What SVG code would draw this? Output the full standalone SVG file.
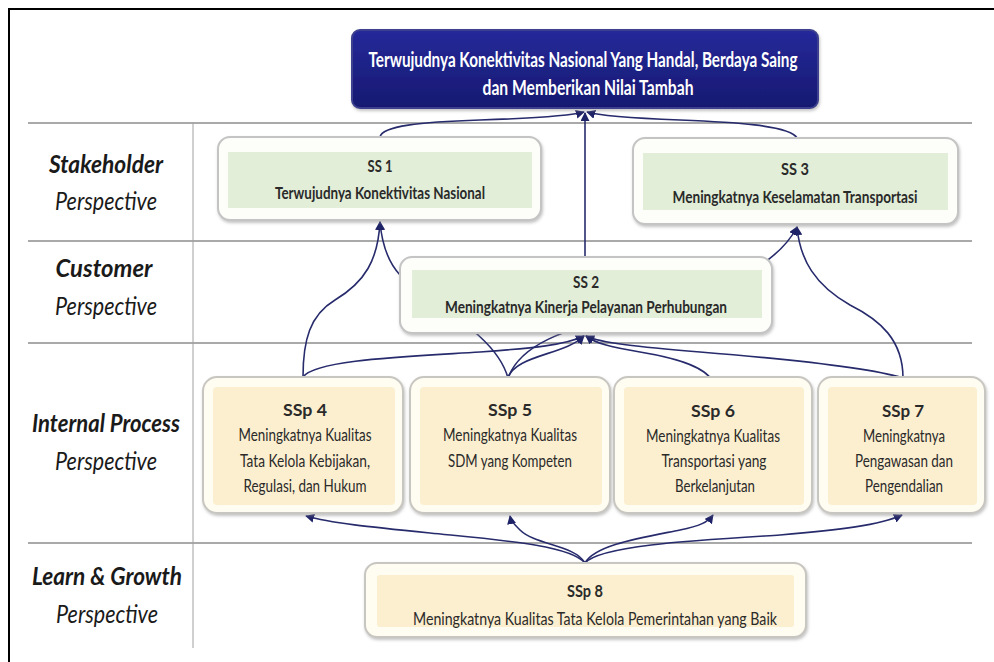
<svg xmlns="http://www.w3.org/2000/svg" width="994" height="662" viewBox="0 0 994 662">
<style>
  .lbl { font-family: Lato, "Liberation Sans", sans-serif; font-style: italic; fill: #1a1a1a; font-size: 25px; text-anchor: middle; }
  .lblb { font-weight: bold; }
  .div { stroke: #a9a9a9; stroke-width: 2; fill: none; }
  .outer { fill: #fdfdfa; stroke: #c4c4c4; stroke-width: 2; filter: url(#sh); }
  .outerY { fill: #fffcf2; stroke: #c8c6c0; stroke-width: 2; filter: url(#sh); }
  .inG { fill: #e2eed8; }
  .inY { fill: #fcefcf; }
  .t { font-family: Lato, "Liberation Sans", sans-serif; font-size: 17px; fill: #2a2a2a; text-anchor: middle; }
  .tb { font-weight: bold; }
  .top { font-family: Lato, "Liberation Sans", sans-serif; font-size: 21px; font-weight: bold; fill: #ffffff; text-anchor: middle; }
  .c { fill: none; stroke: #272b6c; stroke-width: 1.6; }
  .ca { marker-end: url(#arr); }
</style>
<defs>
  <filter id="sh" x="-5%" y="-10%" width="112%" height="125%">
    <feDropShadow dx="1" dy="2" stdDeviation="1.5" flood-color="#888" flood-opacity="0.5"/>
  </filter>
  <linearGradient id="navy" x1="0" y1="0" x2="0" y2="1">
    <stop offset="0" stop-color="#25299a"/>
    <stop offset="1" stop-color="#161970"/>
  </linearGradient>
  <marker id="arr" viewBox="0 0 10 10" refX="9" refY="5" markerWidth="9" markerHeight="9" markerUnits="userSpaceOnUse" orient="auto">
    <path d="M0,0 L10,5 L0,10 z" fill="#1e2266"/>
  </marker>
</defs>
<rect width="994" height="662" fill="#ffffff"/>
<!-- frame -->
<line x1="8" y1="9" x2="994" y2="9" stroke="#000" stroke-width="2"/>
<line x1="9" y1="8" x2="9" y2="662" stroke="#000" stroke-width="2"/>
<!-- dividers -->
<g id="grid">
  <line class="div" x1="28" y1="123" x2="972" y2="123"/>
  <line class="div" x1="28" y1="241" x2="972" y2="241"/>
  <line class="div" x1="28" y1="343" x2="972" y2="343"/>
  <line class="div" x1="28" y1="543" x2="972" y2="543"/>
  <line x1="193" y1="123" x2="193" y2="648" stroke="#a0a0a0" stroke-width="1"/>
</g>
<!-- perspective labels -->
<g id="labels">
  <text class="lbl lblb" x="106" y="173" textLength="114" lengthAdjust="spacingAndGlyphs">Stakeholder</text>
  <text class="lbl" x="106" y="210" textLength="102" lengthAdjust="spacingAndGlyphs">Perspective</text>
  <text class="lbl lblb" x="104" y="277" textLength="97" lengthAdjust="spacingAndGlyphs">Customer</text>
  <text class="lbl" x="106" y="315" textLength="102" lengthAdjust="spacingAndGlyphs">Perspective</text>
  <text class="lbl lblb" x="106" y="432" textLength="148" lengthAdjust="spacingAndGlyphs">Internal Process</text>
  <text class="lbl" x="106" y="470" textLength="102" lengthAdjust="spacingAndGlyphs">Perspective</text>
  <text class="lbl lblb" x="107" y="585" textLength="150" lengthAdjust="spacingAndGlyphs">Learn &amp; Growth</text>
  <text class="lbl" x="107" y="623" textLength="102" lengthAdjust="spacingAndGlyphs">Perspective</text>
</g>
<!-- connectors -->
<g id="connectors">
  <path class="c ca" d="M380,137 C382,126 420,122 480,120 C540,118 570,116 584,112"/>
  <path class="c ca" d="M797,138 C790,125 730,122 680,120 C630,118 600,116 587,112"/>
  <path class="c ca" d="M585,257 L585,113"/>
  <path class="c ca" d="M303,377 C303,340 310,315 335,300 C365,282 378,260 380,222"/>
  <path class="c ca" d="M508,378 C495,330 420,300 400,275 C388,262 382,245 380,222"/>
  <path class="c ca" d="M508,378 C520,345 560,330 640,310 C740,285 780,260 797,227"/>
  <path class="c ca" d="M903,378 C903,340 880,320 850,305 C815,285 800,260 797,227"/>
  <path class="c ca" d="M303,377 C315,360 400,357 480,352 C535,348 565,345 584,336"/>
  <path class="c ca" d="M508,378 C515,355 565,355 584,336"/>
  <path class="c ca" d="M713,382 C705,365 670,357 640,352 C610,347 595,343 586,336"/>
  <path class="c ca" d="M903,378 C870,368 800,360 700,352 C640,347 600,343 586,336"/>
  <path class="c ca" d="M585,563 C570,545 500,540 430,533 C370,527 330,523 306,516"/>
  <path class="c ca" d="M585,563 C575,545 535,545 520,530 C514,524 511,521 510,516"/>
  <path class="c ca" d="M585,563 C595,545 640,538 680,530 C700,526 708,522 713,515"/>
  <path class="c ca" d="M585,563 C600,545 700,540 780,535 C840,530 880,525 902,515"/>
</g>
<!-- nodes -->
<g id="top">
  <rect x="352" y="30" width="466" height="78" rx="8" fill="url(#navy)" stroke="#3c418f" stroke-width="2" filter="url(#sh)"/>
  <text class="top" x="583" y="67" textLength="429" lengthAdjust="spacingAndGlyphs">Terwujudnya Konektivitas Nasional Yang Handal, Berdaya Saing</text>
  <text class="top" x="588" y="95" textLength="211" lengthAdjust="spacingAndGlyphs">dan Memberikan Nilai Tambah</text>
</g>
<g id="ss1">
  <rect class="outer" x="218" y="137" width="323" height="83" rx="12"/>
  <rect class="inG" x="228" y="152" width="304" height="56"/>
  <text class="t tb" x="380" y="172" textLength="25" lengthAdjust="spacingAndGlyphs">SS 1</text>
  <text class="t tb" x="380" y="199" textLength="210" lengthAdjust="spacingAndGlyphs">Terwujudnya Konektivitas Nasional</text>
</g>
<g id="ss3">
  <rect class="outer" x="633" y="138" width="325" height="86" rx="12"/>
  <rect class="inG" x="643" y="153" width="305" height="57"/>
  <text class="t tb" x="795" y="175" textLength="28" lengthAdjust="spacingAndGlyphs">SS 3</text>
  <text class="t tb" x="795" y="203" textLength="245" lengthAdjust="spacingAndGlyphs">Meningkatnya Keselamatan Transportasi</text>
</g>
<g id="ss2">
  <rect class="outer" x="400" y="257" width="372" height="76" rx="12"/>
  <rect class="inG" x="412" y="270" width="350" height="48"/>
  <text class="t tb" x="586" y="288" textLength="26" lengthAdjust="spacingAndGlyphs">SS 2</text>
  <text class="t tb" x="586" y="313" textLength="282" lengthAdjust="spacingAndGlyphs">Meningkatnya Kinerja Pelayanan Perhubungan</text>
</g>
<g id="ssp4">
  <rect class="outerY" x="203" y="377" width="200" height="136" rx="14"/>
  <rect class="inY" x="213" y="387" width="182" height="118" rx="4"/>
  <text class="t tb" x="305" y="416" textLength="44" lengthAdjust="spacingAndGlyphs">SSp 4</text>
  <text class="t" x="305" y="441" textLength="133" lengthAdjust="spacingAndGlyphs">Meningkatnya Kualitas</text>
  <text class="t" x="305" y="467" textLength="130" lengthAdjust="spacingAndGlyphs">Tata Kelola Kebijakan,</text>
  <text class="t" x="305" y="492" textLength="123" lengthAdjust="spacingAndGlyphs">Regulasi, dan Hukum</text>
</g>
<g id="ssp5">
  <rect class="outerY" x="410" y="377" width="200" height="136" rx="14"/>
  <rect class="inY" x="420" y="387" width="182" height="118" rx="4"/>
  <text class="t tb" x="510" y="416" textLength="44" lengthAdjust="spacingAndGlyphs">SSp 5</text>
  <text class="t" x="510" y="441" textLength="134" lengthAdjust="spacingAndGlyphs">Meningkatnya Kualitas</text>
  <text class="t" x="510" y="467" textLength="124" lengthAdjust="spacingAndGlyphs">SDM yang Kompeten</text>
</g>
<g id="ssp6">
  <rect class="outerY" x="614" y="377" width="198" height="136" rx="14"/>
  <rect class="inY" x="624" y="387" width="180" height="118" rx="4"/>
  <text class="t tb" x="713" y="417" textLength="44" lengthAdjust="spacingAndGlyphs">SSp 6</text>
  <text class="t" x="713" y="442" textLength="134" lengthAdjust="spacingAndGlyphs">Meningkatnya Kualitas</text>
  <text class="t" x="714" y="467" textLength="105" lengthAdjust="spacingAndGlyphs">Transportasi yang</text>
  <text class="t" x="715" y="492" textLength="80" lengthAdjust="spacingAndGlyphs">Berkelanjutan</text>
</g>
<g id="ssp7">
  <rect class="outerY" x="818" y="377" width="167" height="136" rx="14"/>
  <rect class="inY" x="828" y="387" width="149" height="118" rx="4"/>
  <text class="t tb" x="903" y="417" textLength="42" lengthAdjust="spacingAndGlyphs">SSp 7</text>
  <text class="t" x="904" y="442" textLength="82" lengthAdjust="spacingAndGlyphs">Meningkatnya</text>
  <text class="t" x="904" y="467" textLength="98" lengthAdjust="spacingAndGlyphs">Pengawasan dan</text>
  <text class="t" x="904" y="492" textLength="78" lengthAdjust="spacingAndGlyphs">Pengendalian</text>
</g>
<g id="ssp8">
  <rect class="outerY" x="365" y="563" width="441" height="74" rx="12"/>
  <rect class="inY" x="377" y="575" width="417" height="52" rx="3"/>
  <text class="t tb" x="585" y="597" textLength="36" lengthAdjust="spacingAndGlyphs">SSp 8</text>
  <text class="t" x="595" y="625" textLength="364" lengthAdjust="spacingAndGlyphs">Meningkatnya Kualitas Tata Kelola Pemerintahan yang Baik</text>
</g>
</svg>
